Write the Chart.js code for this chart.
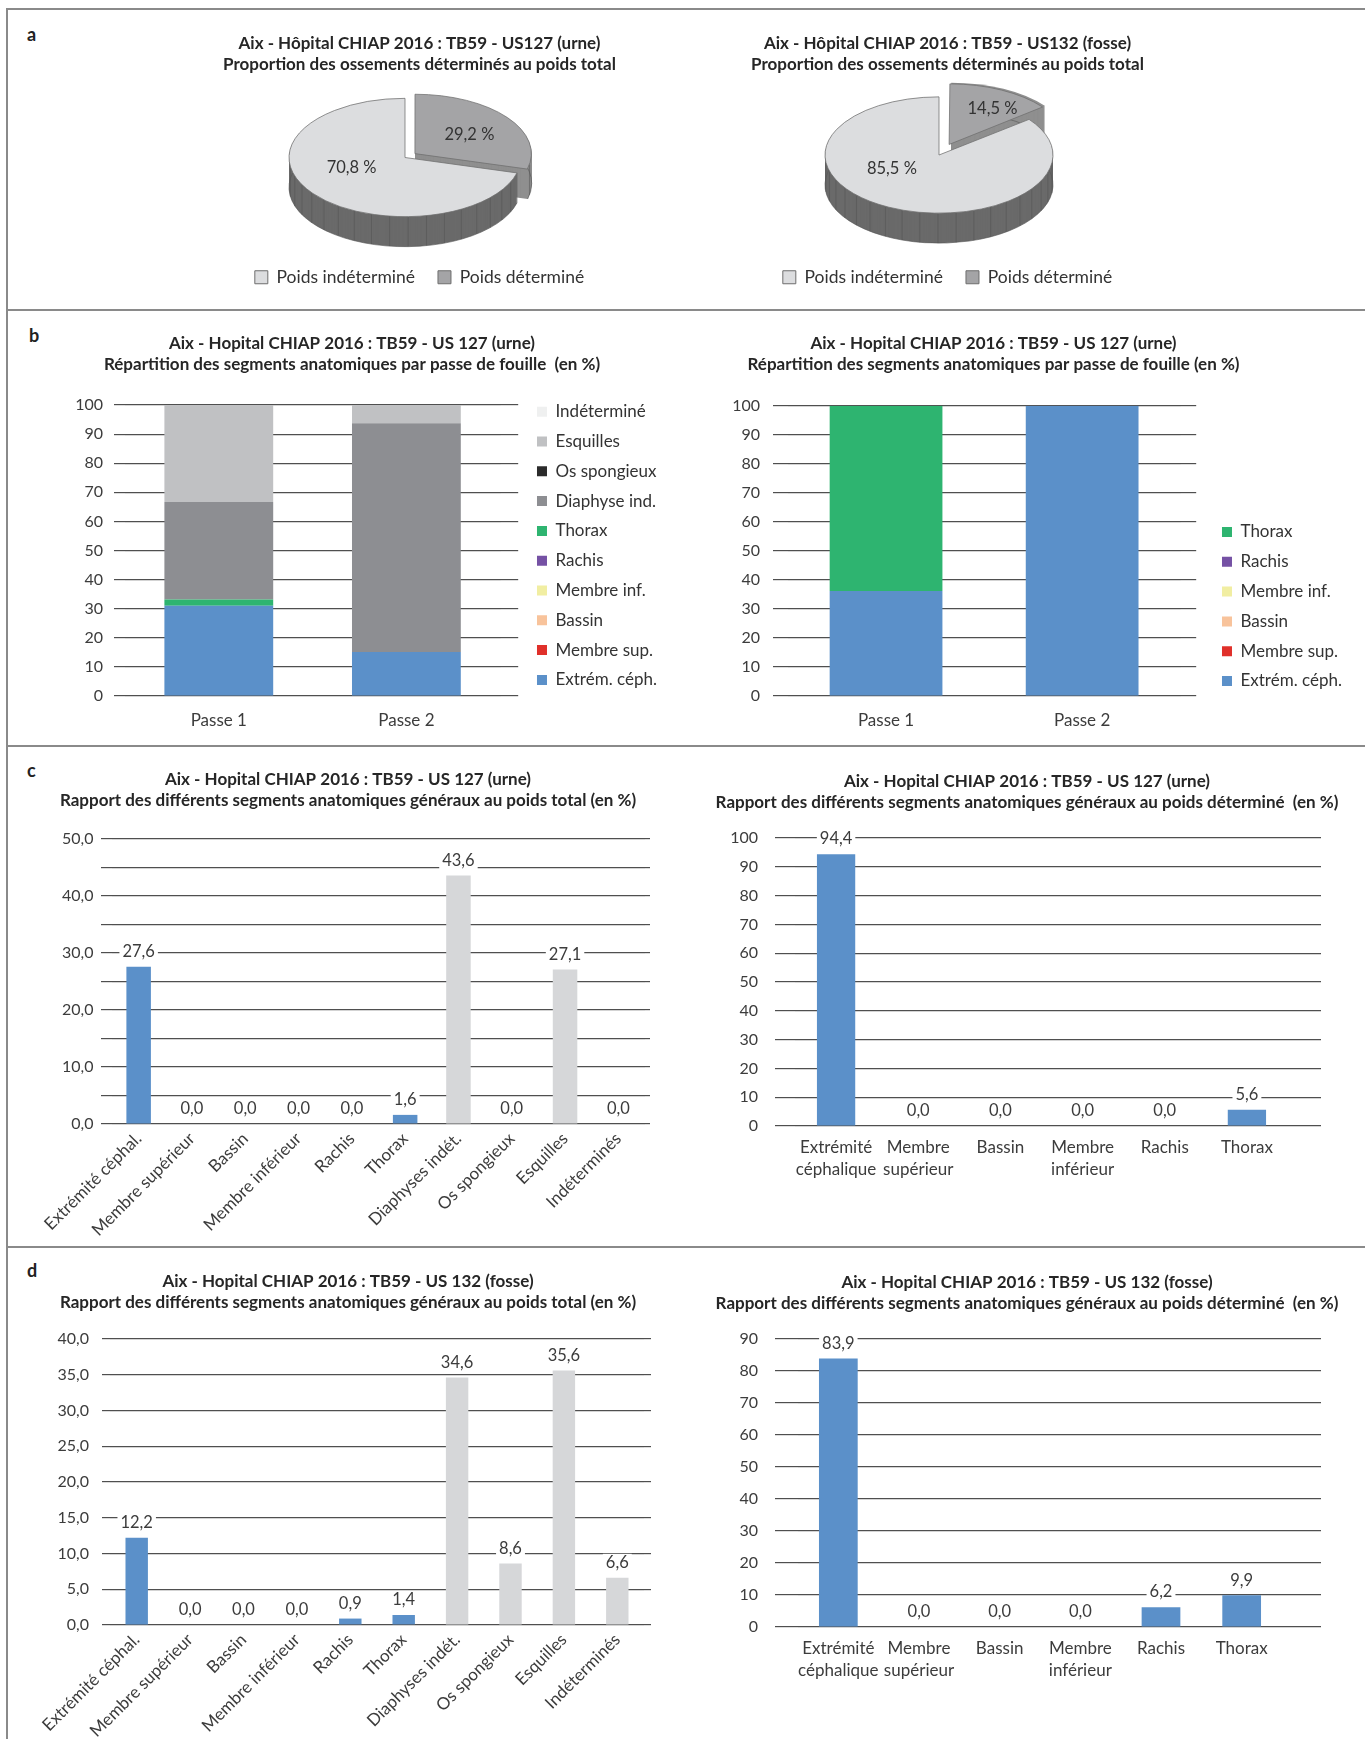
<!DOCTYPE html>
<html lang="fr">
<head>
<meta charset="utf-8">
<title>Aix - Hôpital CHIAP 2016 : TB59</title>
<script src="https://cdn.jsdelivr.net/npm/chart.js@4.4.1/dist/chart.umd.min.js"></script>
<style>
  html, body { margin: 0; padding: 0; background: #fff; }
  #page { position: relative; width: 1365px; height: 1739px; overflow: hidden; }
  canvas { position: absolute; }
  .rule { position: absolute; background: #8a8a8a; }
  .tag { position: absolute; font: bold 18px Lato, sans-serif; color: #222; }
</style>
</head>
<body>
<div id="page">
  <div class="rule" style="left:6px; top:8px; width:1359px; height:2px"></div>
  <div class="rule" style="left:6px; top:8px; width:2px; height:1731px"></div>
  <div class="rule" style="left:6px; top:309px; width:1359px; height:2px"></div>
  <div class="rule" style="left:6px; top:745px; width:1359px; height:2px"></div>
  <div class="rule" style="left:6px; top:1246px; width:1359px; height:2px"></div>

  <div class="tag" style="left:27px; top:23px">a</div>
  <div class="tag" style="left:29px; top:324px">b</div>
  <div class="tag" style="left:27px; top:759px">c</div>
  <div class="tag" style="left:27px; top:1259px">d</div>

  <canvas id="pieUrne" width="814" height="300" style="left:8px; top:8px"></canvas>
  <canvas id="pieFosse" width="522" height="300" style="left:682px; top:8px"></canvas>
  <canvas id="passeTotal" width="688" height="434" style="left:8px; top:310px"></canvas>
  <canvas id="passeDet" width="743" height="434" style="left:622px; top:310px"></canvas>
  <canvas id="urneTotal" width="680" height="500" style="left:8px; top:745px"></canvas>
  <canvas id="urneDet" width="676" height="500" style="left:689px; top:745px"></canvas>
  <canvas id="fosseTotal" width="680" height="493" style="left:8px; top:1246px"></canvas>
  <canvas id="fosseDet" width="676" height="493" style="left:689px; top:1246px"></canvas>
</div>

<script>
// ---- data ----
const pieLabels = ['Poids indéterminé', 'Poids déterminé'];
const pieUrne = [70.8, 29.2];
const pieFosse = [85.5, 14.5];

const passes = ['Passe 1', 'Passe 2'];
// US 127, share of each segment per passe (all bones)
const passeExtrem = [31.0, 15.1];
const passeMembreSup = [0, 0];
const passeBassin = [0, 0];
const passeMembreInf = [0, 0];
const passeRachis = [0, 0];
const passeThorax = [2.2, 0];
const passeDiaphyse = [33.5, 78.6];
const passeOsSpong = [0, 0];
const passeEsquilles = [33.3, 6.3];
const passeIndet = [0, 0];
// US 127, share per passe (determined bones only)
const passeDetExtrem = [36.2, 100];
const passeDetThorax = [63.8, 0];

const segTotalLabels = ['Extrémité céphal.', 'Membre supérieur', 'Bassin', 'Membre inférieur', 'Rachis',
  'Thorax', 'Diaphyses indét.', 'Os spongieux', 'Esquilles', 'Indéterminés'];
const segDetLabels = [['Extrémité', 'céphalique'], ['Membre', 'supérieur'], 'Bassin', ['Membre', 'inférieur'], 'Rachis', 'Thorax'];
const urneTotal = [27.6, 0, 0, 0, 0, 1.6, 43.6, 0, 27.1, 0];
const urneDet = [94.4, 0, 0, 0, 0, 5.6];
const fosseTotal = [12.2, 0, 0, 0, 0.9, 1.4, 34.6, 8.6, 35.6, 6.6];
const fosseDet = [83.9, 0, 0, 0, 6.2, 9.9];

// ---- style ----
const FONT = 'Lato, "Liberation Sans", sans-serif';
Chart.defaults.font.family = FONT;
Chart.defaults.color = '#3c3c3c';
Chart.defaults.animation = false;

const gridColor = '#4f4f4f';
const blue = '#5b90c9';
const lightBar = '#d6d7d9';
const segColors = {
  'Extrém. céph.': blue, 'Membre sup.': '#e0302a', 'Bassin': '#f8c39b', 'Membre inf.': '#f1eea2',
  'Rachis': '#7551a4', 'Thorax': '#2eb470', 'Diaphyse ind.': '#8d8e92', 'Os spongieux': '#2b2b2b',
  'Esquilles': '#c0c1c3', 'Indéterminé': '#eff0f0'
};

const comma = v => v.toFixed(1).replace('.', ',');

function titleOpts(lines, top, bottom) {
  return {
    display: true,
    text: lines,
    color: '#262626',
    font: { size: 17, weight: 'bold', lineHeight: 1.25 },
    padding: { top: top, bottom: bottom }
  };
}

// geometry of a slice as ArcElement draws it (offset included)
function sliceGeom(arc) {
  const p = arc.getProps(['x', 'y', 'startAngle', 'endAngle', 'outerRadius']);
  const off = (arc.options.offset || 0) / 4;
  const fix = 1 - Math.sin(Math.min(Math.PI, p.endAngle - p.startAngle));
  const mid = (p.startAngle + p.endAngle) / 2;
  return {
    x: p.x + Math.cos(mid) * off * (1 + fix),
    y: p.y + Math.sin(mid) * off * (1 + fix),
    r: p.outerRadius + off * fix,
    start: p.startAngle, end: p.endAngle, mid: mid, shift: off * (1 + fix)
  };
}

// tilted pie with a side wall
const pie3d = {
  id: 'pie3d',
  beforeDatasetsDraw(chart, args, o) {
    const ctx = chart.ctx;
    const arcs = chart.getDatasetMeta(0).data;
    const c = arcs[0].getProps(['x', 'y']);
    const h = o.depth / o.tilt;
    ctx.save();
    ctx.translate(o.x, o.y);
    ctx.scale(1, o.tilt);
    ctx.translate(-c.x, -c.y);
    for (let d = o.depth; d > 0; d--) {
      arcs.forEach((arc, i) => {
        const s = sliceGeom(arc);
        ctx.beginPath();
        ctx.moveTo(s.x, s.y + d / o.tilt);
        ctx.arc(s.x, s.y + d / o.tilt, s.r, s.start, s.end);
        ctx.closePath();
        ctx.fillStyle = o.sides[i];
        ctx.fill();
      });
    }
    // seams on the visible wall
    ctx.strokeStyle = '#555';
    ctx.lineWidth = 0.8;
    arcs.forEach(arc => {
      const s = sliceGeom(arc);
      for (let a = s.start; a <= s.end; a += 0.16) {
        if (Math.sin(a) <= 0.05) continue;
        const x = s.x + Math.cos(a) * s.r, y = s.y + Math.sin(a) * s.r;
        ctx.beginPath();
        ctx.moveTo(x, y);
        ctx.lineTo(x, y + h);
        ctx.stroke();
      }
      ctx.beginPath();
      ctx.arc(s.x, s.y + h, s.r, s.start, s.end);
      ctx.stroke();
    });
  },
  afterDatasetsDraw(chart, args, o) {
    const ctx = chart.ctx;
    ctx.restore();
    const arcs = chart.getDatasetMeta(0).data;
    const values = chart.data.datasets[0].data;
    ctx.save();
    ctx.font = '16.5px ' + FONT;
    ctx.fillStyle = '#333';
    ctx.textAlign = 'center';
    ctx.textBaseline = 'middle';
    arcs.forEach((arc, i) => {
      const s = sliceGeom(arc);
      const rr = s.r * o.labelAt[i] + s.shift;
      const [nx, ny] = o.nudge[i];
      ctx.fillText(comma(values[i]) + ' %',
        o.x + Math.cos(s.mid) * rr + nx, o.y + Math.sin(s.mid) * rr * o.tilt + ny);
    });
    ctx.restore();
  }
};

// value labels above the bars
const barValues = {
  id: 'barValues',
  afterDatasetsDraw(chart, args, o) {
    if (!o.show) return;
    const ctx = chart.ctx;
    const data = chart.data.datasets[0].data;
    ctx.save();
    ctx.font = '16.5px ' + FONT;
    ctx.textAlign = 'center';
    ctx.textBaseline = 'middle';
    chart.getDatasetMeta(0).data.forEach((bar, i) => {
      const txt = comma(data[i]);
      const w = ctx.measureText(txt).width + 6;
      const y = bar.y - 15;
      ctx.fillStyle = '#fff';
      ctx.fillRect(bar.x - w / 2, y - 9, w, 18);
      ctx.fillStyle = '#3c3c3c';
      ctx.fillText(txt, bar.x, y);
    });
    ctx.restore();
  }
};

function pieChart(id, values, g) {
  return new Chart(document.getElementById(id), {
    type: 'pie',
    data: {
      labels: pieLabels,
      datasets: [{
        data: values,
        backgroundColor: ['#dcdddf', '#a4a4a6'],
        borderColor: '#6e6e6e',
        borderWidth: 1,
        offset: [0, g.explode],
        clip: false
      }]
    },
    options: {
      responsive: false,
      rotation: values[1] * 3.6,
      radius: g.r,
      layout: { padding: { bottom: 12, left: 9 } },
      plugins: {
        title: titleOpts(g.title, 24.4, 5),
        legend: {
          position: 'bottom',
          labels: { boxWidth: 13, boxHeight: 13, padding: 23, color: '#333', font: { size: 17.5 } }
        },
        tooltip: { enabled: false },
        pie3d: { x: g.cx, y: g.cy, tilt: 0.51, depth: 30, sides: ['#6a6a6a', '#8f8f8f'], labelAt: g.labelAt, nudge: g.nudge }
      }
    },
    plugins: [pie3d]
  });
}

function barChart(id, labels, datasets, g) {
  const yTicks = { stepSize: g.step, padding: g.yPad, color: '#3c3c3c', font: { size: 16 } };
  if (g.fmt) yTicks.callback = g.fmt;
  return new Chart(document.getElementById(id), {
    type: 'bar',
    data: { labels: labels, datasets: datasets },
    options: {
      responsive: false,
      layout: { padding: { left: g.pad || 0, right: g.pad || 0 } },
      scales: {
        x: {
          stacked: !!g.stacked,
          grid: { display: false, drawTicks: false },
          border: { display: false },
          ticks: {
            autoSkip: false, maxRotation: g.rot || 0, minRotation: g.rot || 0,
            padding: g.xPad, color: '#3c3c3c', font: { size: 17, lineHeight: 1.3 }
          },
          afterFit: s => { s.height = g.xh; }
        },
        y: {
          stacked: !!g.stacked,
          min: 0, max: g.max,
          ticks: yTicks,
          grid: { color: gridColor, lineWidth: 1.2, tickLength: g.extL },
          border: { display: false },
          afterFit: s => { s.width = g.left; }
        },
        y2: {
          type: 'linear', position: 'right',
          min: 0, max: g.max,
          ticks: { display: false, stepSize: g.step },
          grid: { color: gridColor, lineWidth: 1.2, drawOnChartArea: false, tickLength: g.extR },
          border: { display: false },
          afterFit: s => { s.width = g.y2w; }
        }
      },
      plugins: {
        title: titleOpts(g.title, g.tpt, g.tpb),
        legend: g.legend || { display: false },
        tooltip: { enabled: false },
        barValues: { show: !g.stacked }
      }
    },
    plugins: [barValues]
  });
}

function stack(names, series, bar) {
  return names.map((n, i) => ({
    label: n, data: series[i], backgroundColor: segColors[n],
    barPercentage: bar, categoryPercentage: 1
  }));
}

function single(values, bar) {
  return [{
    data: values,
    backgroundColor: values.map((v, i) => (i < 6 ? blue : lightBar)),
    barPercentage: bar, categoryPercentage: 1
  }];
}

// right-hand legend; the blank legend title only pushes the items down
function passeLegend(gap) {
  return {
    position: 'right', fullSize: true, align: 'start', reverse: true, maxWidth: 220,
    title: { display: true, text: ' ', font: { size: 10, lineHeight: 1.2 }, padding: { top: gap / 2, bottom: gap / 2 } },
    labels: { boxWidth: 10, boxHeight: 10, padding: 12.8, color: '#333', font: { size: 17 } }
  };
}

// ---- a ----
pieChart('pieUrne', pieUrne, {
  title: ['Aix - Hôpital CHIAP 2016 : TB59 - US127 (urne)', 'Proportion des ossements déterminés au poids total'],
  r: 116, explode: 50, cx: 397, cy: 149.5, labelAt: [0.58, 0.51], nudge: [[0, -11], [7, 0]]
});
pieChart('pieFosse', pieFosse, {
  title: ['Aix - Hôpital CHIAP 2016 : TB59 - US132 (fosse)', 'Proportion des ossements déterminés au poids total'],
  r: 114, explode: 92, cx: 257, cy: 147, labelAt: [0.5, 0.75], nudge: [[-22, -12], [2, 7]]
});

// ---- b ----
barChart('passeTotal', passes, stack(
  ['Extrém. céph.', 'Membre sup.', 'Bassin', 'Membre inf.', 'Rachis', 'Thorax', 'Diaphyse ind.', 'Os spongieux', 'Esquilles', 'Indéterminé'],
  [passeExtrem, passeMembreSup, passeBassin, passeMembreInf, passeRachis, passeThorax, passeDiaphyse, passeOsSpong, passeEsquilles, passeIndet],
  0.58), {
  title: ['Aix - Hopital CHIAP 2016 : TB59 - US 127 (urne)', 'Répartition des segments anatomiques par passe de fouille  (en %)'],
  tpt: 22.4, tpb: 30.1, stacked: true, max: 100, step: 10,
  pad: 29, left: 88, extL: 11, extR: 18, y2w: 24, yPad: 11, xh: 48, xPad: 13.8, legend: passeLegend(68.4)
});
barChart('passeDet', passes, stack(
  ['Extrém. céph.', 'Membre sup.', 'Bassin', 'Membre inf.', 'Rachis', 'Thorax'],
  [passeDetExtrem, passeMembreSup, passeBassin, passeMembreInf, passeRachis, passeDetThorax],
  0.575), {
  title: ['Aix - Hopital CHIAP 2016 : TB59 - US 127 (urne)', 'Répartition des segments anatomiques par passe de fouille (en %)'],
  tpt: 22.4, tpb: 30.8, stacked: true, max: 100, step: 10,
  pad: 13, left: 153, extL: 15, extR: 16, y2w: 29, yPad: 13, xh: 48, xPad: 13.8, legend: passeLegend(188.7)
});

// ---- c ----
barChart('urneTotal', segTotalLabels, single(urneTotal, 0.46), {
  title: ['Aix - Hopital CHIAP 2016 : TB59 - US 127 (urne)', 'Rapport des différents segments anatomiques généraux au poids total (en %)'],
  tpt: 23.7, tpb: 27.8, max: 50, step: 5, fmt: v => (v % 10 === 0 ? comma(v) : ''),
  left: 104, extL: 11, extR: 5, y2w: 43, yPad: 7.5, xh: 121, xPad: 4, rot: 45
});
barChart('urneDet', segDetLabels, single(urneDet, 0.466), {
  title: ['Aix - Hopital CHIAP 2016 : TB59 - US 127 (urne)', 'Rapport des différents segments anatomiques généraux au poids déterminé  (en %)'],
  tpt: 25.4, tpb: 25.1, max: 100, step: 10,
  left: 106, extL: 20, extR: 33, y2w: 77, yPad: 17, xh: 119, xPad: 10
});

// ---- d ----
barChart('fosseTotal', segTotalLabels, single(fosseTotal, 0.42), {
  title: ['Aix - Hopital CHIAP 2016 : TB59 - US 132 (fosse)', 'Rapport des différents segments anatomiques généraux au poids total (en %)'],
  tpt: 24.4, tpb: 26.1, max: 40, step: 5, fmt: v => comma(v),
  left: 102, extL: 8, extR: 7, y2w: 44, yPad: 13, xh: 114, xPad: 4, rot: 45
});
barChart('fosseDet', segDetLabels, single(fosseDet, 0.48), {
  title: ['Aix - Hopital CHIAP 2016 : TB59 - US 132 (fosse)', 'Rapport des différents segments anatomiques généraux au poids déterminé  (en %)'],
  tpt: 25.4, tpb: 25.1, max: 90, step: 10,
  left: 109, extL: 23, extR: 39, y2w: 83, yPad: 17, xh: 112, xPad: 10
});
</script>
</body>
</html>
